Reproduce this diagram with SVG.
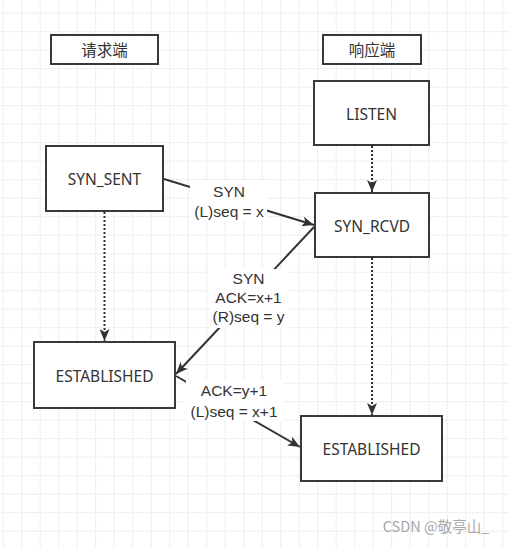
<svg xmlns="http://www.w3.org/2000/svg" width="509" height="548" viewBox="0 0 509 548">
<style>
.node rect{fill:#ffffff;stroke:#36393d;stroke-width:2}
.t{font-family:"Noto Sans","Liberation Sans",sans-serif;font-size:15.5px;fill:#333333;text-anchor:middle}
.cjk{font-family:"Noto Sans CJK SC","Noto Sans",sans-serif;font-size:15.5px;fill:#333333;text-anchor:middle}
.lbl{font-family:"Liberation Sans",Arial,sans-serif;font-size:15.5px;fill:#333333;text-anchor:middle}
.conn line{stroke:#333333;stroke-width:2;fill:none}
.dot{stroke-dasharray:2 2}
</style>
<defs>
<pattern id="grid" patternUnits="userSpaceOnUse" x="2.7" y="12.7" width="18.5" height="18.5">
<path d="M0,0.5 H18.5 M0.5,0 V18.5" stroke="#eeeeee" stroke-width="1" fill="none"/>
</pattern>
<marker id="arr" markerUnits="userSpaceOnUse" viewBox="0 0 12 10" refX="12" refY="5" markerWidth="12" markerHeight="10" orient="auto">
<path d="M0,0 L12,5 L0,10 L3,5 z" fill="#333333"/>
</marker>
</defs>
<rect width="509" height="548" fill="#ffffff"/>
<rect width="509" height="548" fill="url(#grid)"/>

<g id="connectors" class="conn">
<line class="dot" x1="372" y1="146" x2="372" y2="192" marker-end="url(#arr)"/>
<line class="dot" x1="104.5" y1="212" x2="104.5" y2="341" marker-end="url(#arr)"/>
<line class="dot" x1="372" y1="258" x2="372" y2="415" marker-end="url(#arr)"/>
<line x1="164" y1="179" x2="314" y2="225" marker-end="url(#arr)"/>
<line x1="314" y1="227" x2="176" y2="374" marker-end="url(#arr)"/>
<line x1="176" y1="376" x2="300" y2="447" marker-end="url(#arr)"/>
</g>

<g id="label-syn">
<rect x="190" y="180" width="77" height="41" fill="#ffffff"/>
<text class="lbl" x="229" y="196.5">SYN</text>
<text class="lbl" x="229" y="216.5">(L)seq = x</text>
</g>
<g id="label-synack">
<rect x="209" y="269" width="79" height="59" fill="#ffffff"/>
<text class="lbl" x="248.5" y="284">SYN</text>
<text class="lbl" x="248.5" y="303">ACK=x+1</text>
<text class="lbl" x="248.5" y="322">(R)seq = y</text>
</g>
<g id="label-ack">
<rect x="186" y="380" width="97" height="41" fill="#ffffff"/>
<text class="lbl" x="234" y="396">ACK=y+1</text>
<text class="lbl" x="234" y="416.5">(L)seq = x+1</text>
</g>

<g id="client" class="node">
<rect x="51" y="35" width="107" height="29"/>
<text class="cjk" x="104.5" y="56">请求端</text>
</g>
<g id="server" class="node">
<rect x="323" y="35" width="98" height="29"/>
<text class="cjk" x="372" y="56">响应端</text>
</g>
<g id="listen" class="node">
<rect x="314" y="81" width="115" height="64"/>
<text class="t" x="371.5" y="119.5">LISTEN</text>
</g>
<g id="syn_sent" class="node">
<rect x="46" y="146" width="117" height="65"/>
<text class="t" x="104.5" y="185">SYN_SENT</text>
</g>
<g id="syn_rcvd" class="node">
<rect x="315" y="193" width="114" height="64"/>
<text class="t" x="372" y="231.5">SYN_RCVD</text>
</g>
<g id="established_client" class="node">
<rect x="34" y="342" width="141" height="66"/>
<text class="t" x="104.5" y="381.5">ESTABLISHED</text>
</g>
<g id="established_server" class="node">
<rect x="301" y="416" width="141" height="65"/>
<text class="t" x="371.5" y="455">ESTABLISHED</text>
</g>

<text x="436" y="532" font-family="Noto Sans CJK SC, Noto Sans, sans-serif" font-size="14.5" fill="#a8a8a8" text-anchor="middle">CSDN @敬亭山_</text>
</svg>
